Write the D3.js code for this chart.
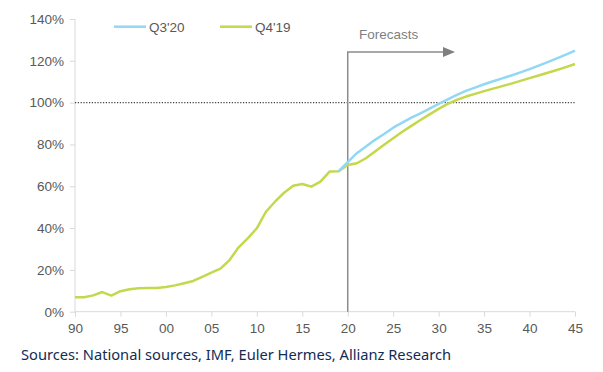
<!DOCTYPE html>
<html><head><meta charset="utf-8">
<script src="https://cdn.jsdelivr.net/npm/d3@7"></script>
<style>body{margin:0;background:#fff;} svg{display:block;}</style>
</head><body>
<svg id="c" width="603" height="372"></svg>
<script>
const years = d3.range(1990, 2046);
const xTickLabels = ["90","95","00","05","10","15","20","25","30","35","40","45"];
const yTicks = [0,20,40,60,80,100,120,140];
const seriesNames = ["Q3'20","Q4'19"];
// Q4'19 series (history 1990-2019 + forecast 2020-2045)
const q419 = [6.9,6.9,7.8,9.4,7.7,9.8,10.7,11.2,11.3,11.3,11.8,12.6,13.6,14.7,16.7,18.7,20.6,24.7,30.8,35.1,39.9,47.8,52.6,56.9,60.2,61.1,59.8,62.2,67.0,67.2,
  70.2,71.0,73.4,76.6,79.8,83.0,86.1,88.9,91.7,94.4,97.0,99.4,101.3,102.9,104.2,105.5,106.7,107.9,109.1,110.4,111.7,113.0,114.3,115.6,117.0,118.5];
// Q3'20 series starts at 2019
const q320Years = d3.range(2019, 2046);
const q320 = [67.2,71.5,75.8,79.0,82.2,85.0,88.0,90.4,92.8,94.9,97.1,99.4,101.6,103.7,105.6,107.2,108.8,110.2,111.6,113.0,114.5,116.0,117.7,119.4,121.2,123.0,124.9];

const svg = d3.select("#c");
const x = d3.scaleLinear().domain([1990,2045]).range([75,575]);
const y = d3.scaleLinear().domain([0,140]).range([311.7,19]);
const axisCol = "#d9d9d9", txtCol = "#595959";

// y axis
const ya = svg.append("g").attr("transform","translate(75,0)")
  .call(d3.axisLeft(y).tickValues(yTicks).tickSize(5).tickPadding(6).tickFormat(d=>d+"%"));
ya.select(".domain").attr("stroke",axisCol).attr("d","M0,"+y(140)+"V"+y(0));
ya.selectAll("line").attr("stroke",axisCol);
ya.selectAll("text").attr("fill",txtCol).style("font-family","Liberation Sans, Arial, sans-serif").style("font-size","13.5px");

// x axis
const xa = svg.append("g").attr("transform","translate(0,311.7)")
  .call(d3.axisBottom(x).tickValues(d3.range(1990,2046,5)).tickSize(5).tickPadding(7)
    .tickFormat((d,i)=>xTickLabels[i]));
xa.select(".domain").attr("stroke",axisCol).attr("d","M75,0H575");
xa.selectAll("line").attr("stroke",axisCol);
xa.selectAll("text").attr("fill",txtCol).style("font-family","Liberation Sans, Arial, sans-serif").style("font-size","13.5px");

// 100% dotted line
svg.append("line").attr("x1",x(1990)).attr("x2",x(2045)).attr("y1",y(100)).attr("y2",y(100))
  .attr("stroke","#404040").attr("stroke-width",1.2).attr("stroke-dasharray","1.2,1.6");

// forecast marker
const fx = x(2020);
svg.append("path").attr("d",`M${fx},${y(0)}V52H445`).attr("fill","none").attr("stroke","#8c8c8c").attr("stroke-width",1.5);
svg.append("path").attr("d","M443,47L455,52L443,57Z").attr("fill","#7f7f7f");
svg.append("text").attr("x",359).attr("y",39).text("Forecasts").attr("fill","#7f7f7f")
  .style("font-family","Liberation Sans, Arial, sans-serif").style("font-size","13.5px");

const line = d3.line().x(d=>x(d[0])).y(d=>y(d[1]));
const cGreen = "#c4d84c", cBlue = "#92d8f5";
svg.append("path").datum(years.map((yr,i)=>[yr,q419[i]])).attr("d",line)
  .attr("fill","none").attr("stroke",cGreen).attr("stroke-width",2.5).attr("stroke-linejoin","round");
svg.append("path").datum(q320Years.map((yr,i)=>[yr,q320[i]])).attr("d",line)
  .attr("fill","none").attr("stroke",cBlue).attr("stroke-width",2.5).attr("stroke-linejoin","round");

// legend
const leg = [[114,cBlue,seriesNames[0]],[220,cGreen,seriesNames[1]]];
leg.forEach(([lx,c,t])=>{
  svg.append("line").attr("x1",lx).attr("x2",lx+32).attr("y1",26.7).attr("y2",26.7).attr("stroke",c).attr("stroke-width",2.5);
  svg.append("text").attr("x",lx+35).attr("y",31.5).text(t).attr("fill",txtCol)
    .style("font-family","Liberation Sans, Arial, sans-serif").style("font-size","13.5px");
});

// source
svg.append("text").attr("x",21).attr("y",360).text("Sources: National sources, IMF, Euler Hermes, Allianz Research")
  .attr("fill","#122b54").attr("textLength",430).attr("lengthAdjust","spacingAndGlyphs")
  .style("font-family","Noto Sans, sans-serif").style("font-size","14.5px");
</script>
</body></html>
